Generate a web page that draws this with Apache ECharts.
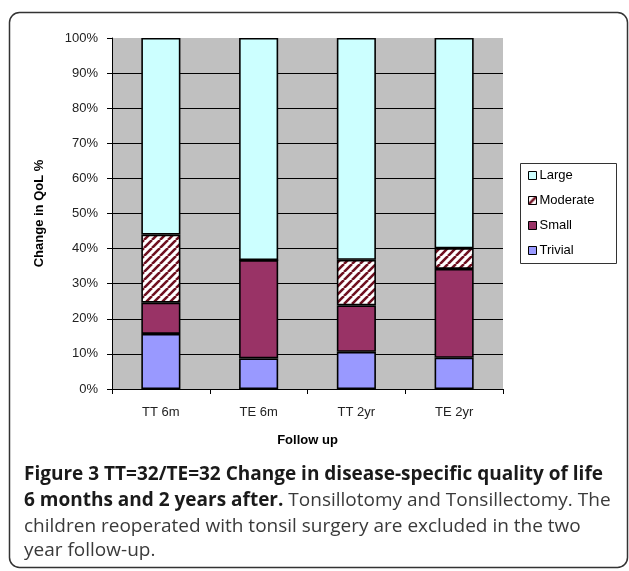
<!DOCTYPE html>
<html>
<head>
<meta charset="utf-8">
<script src="https://cdn.jsdelivr.net/npm/echarts@6/dist/echarts.min.js"></script>
<style>
  html, body { margin: 0; padding: 0; background: #ffffff; }
  #chart { width: 629px; height: 571px; }
</style>
</head>
<body>
<div id="chart"></div>
<script>
// Follow-up groups and share of children (%) per change category
const categories = ['TT 6m', 'TE 6m', 'TT 2yr', 'TE 2yr'];
const trivial  = [15.7, 8.7, 10.6, 8.9];
const small    = [8.9, 28.0, 13.2, 25.3];
const moderate = [19.4, 0, 13.0, 5.9];
const large    = [56.0, 63.3, 63.2, 59.9];
const legendOrder = ['Large', 'Moderate', 'Small', 'Trivial'];
const yTicks = [0, 10, 20, 30, 40, 50, 60, 70, 80, 90, 100];

// Diagonal hatch fill for the "Moderate" segments
function hatchPattern() {
  const s = 8;
  const c = document.createElement('canvas');
  c.width = s; c.height = s;
  const g = c.getContext('2d');
  g.fillStyle = '#ffffff';
  g.fillRect(0, 0, s, s);
  g.strokeStyle = '#6e1020';
  g.lineWidth = 2.6;
  g.beginPath();
  for (let k = -1; k <= 1; k++) {
    g.moveTo(k * s, s);
    g.lineTo(k * s + s, 0);
  }
  g.stroke();
  return c;
}

const chart = echarts.init(document.getElementById('chart'), null, { renderer: 'canvas' });

const edge = { borderColor: '#000', borderWidth: 1.6 };
function barSeries(name, data, color) {
  return {
    name, type: 'bar', stack: 'all', data, barWidth: '40%',
    itemStyle: Object.assign({ color }, edge),
    emphasis: { disabled: true }
  };
}

const gridColors = yTicks.map((v, i) => (i === yTicks.length - 1 ? '#c0c0c0' : '#000'));
const capFont = '"Open Sans"';

const option = {
  animation: false,
  grid: {
    left: 112, top: 38, width: 391, height: 351,
    show: true, backgroundColor: '#c0c0c0', borderWidth: 0
  },
  legend: {
    orient: 'vertical',
    left: 523, top: 164,
    data: legendOrder,
    icon: 'rect',
    itemWidth: 8, itemHeight: 8, itemGap: 12,
    itemStyle: { borderColor: '#000', borderWidth: 1 },
    textStyle: { fontFamily: 'Liberation Sans, Arial', fontSize: 13, color: '#000', padding: [0, 0, 0, -2] },
    selectedMode: false
  },
  xAxis: {
    type: 'category',
    data: categories,
    name: 'Follow up',
    nameLocation: 'middle',
    nameGap: 45,
    nameTextStyle: { fontFamily: 'Liberation Sans, Arial', fontSize: 13, fontWeight: 'bold', color: '#000' },
    axisLine: { lineStyle: { color: '#000', width: 1 } },
    axisTick: { show: true, alignWithLabel: false, length: 5, lineStyle: { color: '#000' } },
    axisLabel: { fontFamily: 'Liberation Sans, Arial', fontSize: 13, color: '#222', margin: 17 }
  },
  yAxis: {
    type: 'value',
    min: 0, max: 100, interval: 10,
    name: 'Change in QoL %',
    nameLocation: 'middle',
    nameGap: 66,
    nameTextStyle: { fontFamily: 'Liberation Sans, Arial', fontSize: 13, fontWeight: 'bold', color: '#000' },
    axisLine: { show: true, lineStyle: { color: '#000', width: 1 } },
    axisTick: { show: true, length: 5, lineStyle: { color: '#000' } },
    axisLabel: { fontFamily: 'Liberation Sans, Arial', fontSize: 13, color: '#222', margin: 14, formatter: '{value}%' },
    splitLine: { show: true, lineStyle: { color: gridColors, width: 1 } }
  },
  series: [
    barSeries('Trivial', trivial, '#9999ff'),
    barSeries('Small', small, '#993366'),
    barSeries('Moderate', moderate, { image: hatchPattern(), repeat: 'repeat' }),
    barSeries('Large', large, '#ccffff')
  ],
  graphic: [
    { type: 'rect', silent: true, z: -10,
      shape: { x: 9.5, y: 12.5, width: 618, height: 555, r: 10 },
      style: { fill: 'none', stroke: '#333', lineWidth: 1.5 } },
    { type: 'rect', silent: true,
      shape: { x: 520.5, y: 163.5, width: 96, height: 100 },
      style: { fill: 'none', stroke: '#333', lineWidth: 1 } },
    { type: 'text', silent: true, left: 24, top: 465,
      style: { text: 'Figure 3 TT=32/TE=32 Change in disease-specific quality of life',
               font: 'bold 19px ' + capFont, fill: '#1a1a1a' } },
    { type: 'text', silent: true, left: 24, top: 491,
      style: { text: '{b|6 months and 2 years after.} Tonsillotomy and Tonsillectomy. The',
               font: '19px ' + capFont, fill: '#3a3a3a',
               rich: { b: { font: 'bold 19px ' + capFont, fill: '#1a1a1a' } } } },
    { type: 'text', silent: true, left: 24, top: 517,
      style: { text: 'children reoperated with tonsil surgery are excluded in the two',
               font: '19px ' + capFont, fill: '#3a3a3a' } },
    { type: 'text', silent: true, left: 24, top: 541,
      style: { text: 'year follow-up.', font: '19px ' + capFont, fill: '#3a3a3a' } }
  ]
};

chart.setOption(option);
</script>
</body>
</html>
